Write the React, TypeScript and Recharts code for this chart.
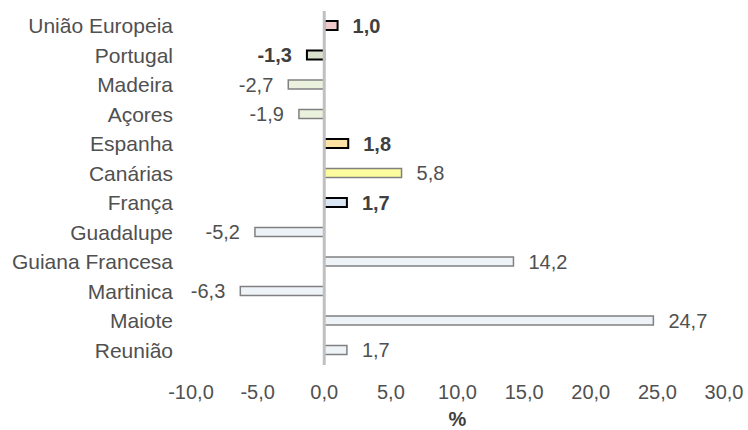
import { Bar, BarChart, Cell, LabelList, ReferenceLine, XAxis, YAxis, Label } from "recharts";

const regions = [
  "União Europeia",
  "Portugal",
  "Madeira",
  "Açores",
  "Espanha",
  "Canárias",
  "França",
  "Guadalupe",
  "Guiana Francesa",
  "Martinica",
  "Maiote",
  "Reunião",
];
const variation = [1.0, -1.3, -2.7, -1.9, 1.8, 5.8, 1.7, -5.2, 14.2, -6.3, 24.7, 1.7];
const xTicks = [-10, -5, 0, 5, 10, 15, 20, 25, 30];
// national / EU aggregates are shown in bold with a black outline
const highlighted = ["União Europeia", "Portugal", "Espanha", "França"];

const FILLS = [
  "#f3c8ca",
  "#d9e1cc",
  "#eaf1dc",
  "#eaf1dc",
  "#fde3a4",
  "#fcfc9e",
  "#dbe5f3",
  "#eef3f8",
  "#eef3f8",
  "#eef3f8",
  "#eef3f8",
  "#eef3f8",
];

const FONT = "'Liberation Sans', Arial, sans-serif";
const TEXT = "#505050";
const SIZE = 20;

const fmt = (v: number) => v.toFixed(1).replace(".", ",");

const chartData = regions.map((name, i) => ({ name, value: variation[i] }));

const valueLabel = (props: any) => {
  const x = +props.x;
  const y = +props.y;
  const width = +props.width;
  const height = +props.height;
  const value = +props.value;
  const bold = highlighted.includes(regions[props.index]);
  const left = Math.min(x, x + width);
  const right = Math.max(x, x + width);
  const neg = value < 0;
  return (
    <text
      x={neg ? left - 15 : right + 15}
      y={y + height / 2 + 2}
      textAnchor={neg ? "end" : "start"}
      dominantBaseline="middle"
      fill={bold ? "#404040" : TEXT}
      style={{ fontFamily: FONT, fontSize: SIZE, fontWeight: bold ? "bold" : "normal" }}
    >
      {fmt(value)}
    </text>
  );
};

export default function App() {
  return (
    <div style={{ position: "absolute", left: 0, top: 0, background: "#fff" }}>
      <BarChart
        width={748}
        height={430}
        data={chartData}
        layout="vertical"
        margin={{ top: 11, right: 24, bottom: 0, left: 0 }}
        barCategoryGap={0}
      >
        <XAxis
          type="number"
          domain={[-10, 30]}
          ticks={xTicks}
          tickFormatter={fmt}
          axisLine={false}
          tickLine={false}
          tickSize={0}
          tickMargin={20}
          height={65}
          interval={0}
          tick={{ fill: TEXT, fontSize: SIZE, fontFamily: FONT }}
        >
          <Label
            value="%"
            position="insideBottom"
            offset={4}
            style={{ fill: "#404040", fontSize: SIZE, fontWeight: "bold", fontFamily: FONT }}
          />
        </XAxis>
        <YAxis
          type="category"
          dataKey="name"
          width={191}
          axisLine={false}
          tickLine={false}
          tickSize={0}
          tickMargin={18}
          interval={0}
          tick={{ fill: TEXT, fontSize: 21, fontFamily: FONT }}
        />
        <Bar dataKey="value" barSize={9} isAnimationActive={false}>
          {chartData.map((entry, index) => {
            const strong = highlighted.includes(entry.name);
            return (
              <Cell
                key={`cell-${index}`}
                fill={FILLS[index]}
                stroke={strong ? "#000000" : "#808080"}
                strokeWidth={strong ? 2 : 1.5}
              />
            );
          })}
          <LabelList dataKey="value" content={valueLabel} />
        </Bar>
        <ReferenceLine x={0} stroke="#c0c0c0" strokeWidth={3} />
      </BarChart>
    </div>
  );
}
